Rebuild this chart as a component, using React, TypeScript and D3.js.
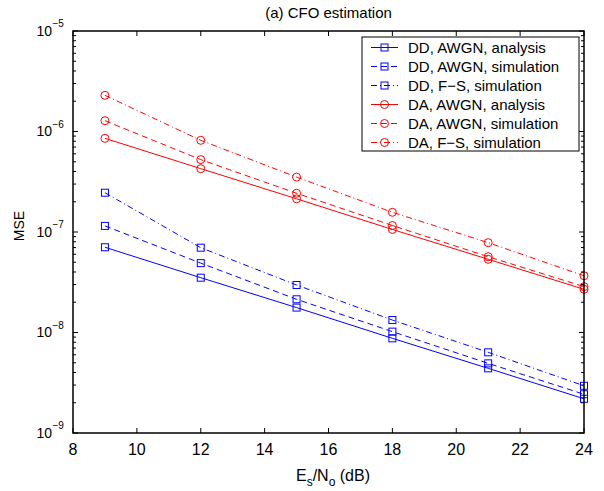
import React from "react";
import * as d3 from "d3";

const snr = [9, 12, 15, 18, 21, 24];
const ddAnalysis = [7.05e-8, 3.51e-8, 1.77e-8, 8.75e-9, 4.4e-9, 2.19e-9];
const ddAwgnSim = [1.15e-7, 4.9e-8, 2.14e-8, 1.02e-8, 4.93e-9, 2.43e-9];
const ddFsSim = [2.46e-7, 6.98e-8, 2.97e-8, 1.33e-8, 6.35e-9, 2.95e-9];
const daAnalysis = [8.55e-7, 4.27e-7, 2.14e-7, 1.06e-7, 5.35e-8, 2.69e-8];
const daAwgnSim = [1.28e-6, 5.25e-7, 2.43e-7, 1.16e-7, 5.68e-8, 2.86e-8];
const daFsSim = [2.29e-6, 8.17e-7, 3.52e-7, 1.57e-7, 7.83e-8, 3.67e-8];

const xTicks = [8, 10, 12, 14, 16, 18, 20, 22, 24];
const yExponents = [-9, -8, -7, -6, -5];

const seriesNames = [
  "DD, AWGN, analysis",
  "DD, AWGN, simulation",
  "DD, F\u2212S, simulation",
  "DA, AWGN, analysis",
  "DA, AWGN, simulation",
  "DA, F\u2212S, simulation",
];

const series = [
  { name: seriesNames[0], values: ddAnalysis, color: "#0000ff", dash: "none", marker: "square" },
  { name: seriesNames[1], values: ddAwgnSim, color: "#0000ff", dash: "6,4", marker: "square" },
  { name: seriesNames[2], values: ddFsSim, color: "#0000ff", dash: "6,3,1,3", marker: "square" },
  { name: seriesNames[3], values: daAnalysis, color: "#ff0000", dash: "none", marker: "circle" },
  { name: seriesNames[4], values: daAwgnSim, color: "#ff0000", dash: "6,4", marker: "circle" },
  { name: seriesNames[5], values: daFsSim, color: "#ff0000", dash: "6,3,1,3", marker: "circle" },
];

const W = 604;
const H = 491;
const L = 73;
const R = 584;
const T = 31;
const B = 433;
const FONT = "'Liberation Sans', Arial, Helvetica, sans-serif";

function Marker({ type, x, y, color }: { type: string; x: number; y: number; color: string }) {
  if (type === "square") {
    return <rect x={x - 3.5} y={y - 3.5} width={7} height={7} fill="none" stroke={color} strokeWidth={1} />;
  }
  return <circle cx={x} cy={y} r={4} fill="none" stroke={color} strokeWidth={1} />;
}

export default function App() {
  const x = d3.scaleLinear().domain([8, 24]).range([L, R]);
  const y = d3.scaleLog().domain([1e-9, 1e-5]).range([B, T]);
  const line = d3
    .line<number>()
    .x((_, i) => x(snr[i]))
    .y((d) => y(d));

  const minor: number[] = [];
  for (let e = -9; e < -5; e++) {
    for (let m = 2; m <= 9; m++) minor.push(m * Math.pow(10, e));
  }

  const legX = 362;
  const legY = 37;
  const legW = 217;
  const legH = 114;
  const rowH = 19;

  return (
    <svg width={W} height={H} style={{ position: "absolute", left: 0, top: 0, background: "#fff" }} fontFamily={FONT}>
      <rect x={0} y={0} width={W} height={H} fill="#fff" />
      {/* title */}
      <text x={(L + R) / 2} y={17.5} textAnchor="middle" fontSize={15}>
        (a) CFO estimation
      </text>

      {/* series */}
      {series.map((s, si) => (
        <g key={si}>
          <path d={line(s.values) || ""} fill="none" stroke={s.color} strokeWidth={1} strokeDasharray={s.dash} />
          {s.values.map((v, i) => (
            <Marker key={i} type={s.marker} x={x(snr[i])} y={y(v)} color={s.color} />
          ))}
        </g>
      ))}

      {/* x ticks */}
      {xTicks.map((t) => (
        <g key={t}>
          <line x1={x(t)} x2={x(t)} y1={B} y2={B - 5} stroke="#000" />
          <line x1={x(t)} x2={x(t)} y1={T} y2={T + 5} stroke="#000" />
          <text x={x(t)} y={455} textAnchor="middle" fontSize={16}>
            {t}
          </text>
        </g>
      ))}

      {/* y ticks */}
      {yExponents.map((e) => {
        const yy = y(Math.pow(10, e));
        return (
          <g key={e}>
            <line x1={L} x2={L + 5} y1={yy} y2={yy} stroke="#000" />
            <line x1={R} x2={R - 5} y1={yy} y2={yy} stroke="#000" />
            <text x={52} y={yy + 4.5} textAnchor="end" fontSize={14}>
              10
            </text>
            <text x={52.5} y={yy - 4} textAnchor="start" fontSize={10}>
              {"\u2212" + Math.abs(e)}
            </text>
          </g>
        );
      })}
      {minor.map((m, i) => {
        const yy = y(m);
        return (
          <g key={i}>
            <line x1={L} x2={L + 3} y1={yy} y2={yy} stroke="#000" />
            <line x1={R} x2={R - 3} y1={yy} y2={yy} stroke="#000" />
          </g>
        );
      })}

      {/* axes box */}
      <rect x={L} y={T} width={R - L} height={B - T} fill="none" stroke="#000" strokeWidth={1.5} />

      {/* axis labels */}
      <text x={333} y={481} textAnchor="middle" fontSize={16}>
        E<tspan fontSize={12} dy={5}>s</tspan>
        <tspan dy={-5}>/N</tspan>
        <tspan fontSize={12} dy={5}>o</tspan>
        <tspan dy={-5}> (dB)</tspan>
      </text>
      <text transform={`translate(24, ${(T + B) / 2 - 6}) rotate(-90)`} textAnchor="middle" fontSize={14}>
        MSE
      </text>

      {/* legend */}
      <rect x={legX} y={legY} width={legW} height={legH} fill="#fff" stroke="#000" strokeWidth={1} />
      {series.map((s, i) => {
        const cy = legY + 10.5 + i * rowH;
        return (
          <g key={i}>
            <line x1={371} x2={398} y1={cy} y2={cy} stroke={s.color} strokeWidth={1} strokeDasharray={s.dash} />
            <Marker type={s.marker} x={384.5} y={cy} color={s.color} />
            <text x={408} y={cy + 5.5} fontSize={15}>
              {s.name}
            </text>
          </g>
        );
      })}
    </svg>
  );
}
